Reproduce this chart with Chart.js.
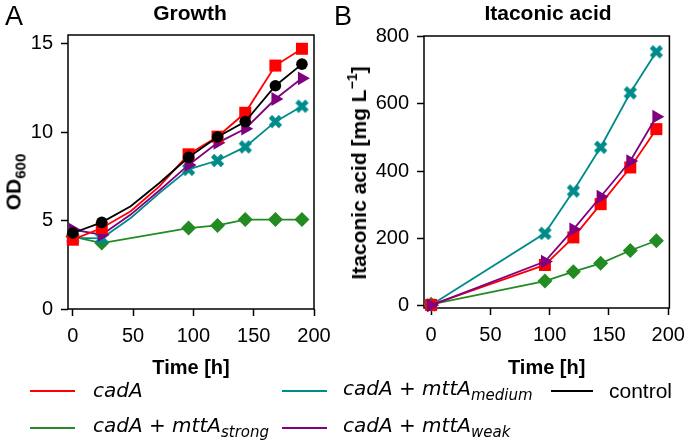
<!DOCTYPE html>
<html>
<head>
<meta charset="utf-8">
<script src="https://cdn.jsdelivr.net/npm/chart.js@4/dist/chart.umd.min.js"></script>
<style>
  body { margin: 0; background: #fff; }
  #wrap { position: relative; width: 693px; height: 441px; font-family: "Liberation Sans", Arial, sans-serif; color: #000; }
  .box { position: absolute; top: 0; height: 380px; }
  .txt { position: absolute; white-space: nowrap; line-height: 1; }
  .ytitle { position: absolute; white-space: nowrap; line-height: 1; font-weight: bold; transform: translate(-50%, -50%) rotate(-90deg); }
  .sw { position: absolute; height: 0; border-top: 2px solid; width: 45px; }
  .lg { position: absolute; white-space: nowrap; line-height: 1; font-family: "DejaVu Sans", sans-serif; font-style: italic; font-size: 20px; transform: translateY(-50%); }
  .lg sub { font-size: 15px; vertical-align: -5px; }
</style>
</head>
<body>
<div id="wrap">
  <div class="box" style="left:0;width:340px"><canvas id="chartA"></canvas></div>
  <div class="box" style="left:340px;width:353px"><canvas id="chartB"></canvas></div>

  <div class="txt" style="left:5px;top:3px;font-size:27px">A</div>
  <div class="txt" style="left:334px;top:3px;font-size:27px">B</div>
  <div class="txt" style="left:190px;top:2px;font-size:21px;font-weight:bold;transform:translateX(-50%)">Growth</div>
  <div class="txt" style="left:548px;top:2px;font-size:21px;font-weight:bold;transform:translateX(-50%)">Itaconic acid</div>
  <div class="ytitle" style="left:15px;top:182px;font-size:21px">OD<span style="font-size:15px;vertical-align:-5px">600</span></div>
  <div class="ytitle" style="left:357px;top:173px;font-size:21px">Itaconic acid [mg L<span style="font-size:14px;vertical-align:9px">−1</span>]</div>

  <div class="sw" style="left:30px;top:390px;border-color:#ff0000"></div>
  <div class="lg" style="left:93px;top:390px">cadA</div>
  <div class="sw" style="left:30px;top:427px;border-color:#228b22"></div>
  <div class="lg" style="left:93px;top:427px">cadA + mttA<sub>strong</sub></div>
  <div class="sw" style="left:282px;top:390px;border-color:#008b8b"></div>
  <div class="lg" style="left:343px;top:390px">cadA + mttA<sub>medium</sub></div>
  <div class="sw" style="left:282px;top:427px;border-color:#800080"></div>
  <div class="lg" style="left:343px;top:427px">cadA + mttA<sub>weak</sub></div>
  <div class="sw" style="left:551px;top:390px;width:42px;border-color:#000"></div>
  <div class="lg" style="left:609px;top:390px;font-family:'Liberation Sans',Arial,sans-serif;font-style:normal;font-size:21px">control</div>
</div>

<script>
  // panel A: OD600 over time (48 h and 72 h are curve points without markers)
  var timeA = [0, 24, 48, 72, 96, 120, 143, 168, 190];
  var noMarkerA = [48, 72];
  var odCadA    = [3.92, 4.58, 5.53, 6.95, 8.75, 9.75, 11.1, 13.77, 14.72];
  var odStrong  = [4.1, 3.73, null, null, 4.58, 4.73, 5.06, 5.06, 5.06];
  var odMedium  = [4.02, 4.0, 5.15, 6.57, 7.9, 8.4, 9.17, 10.6, 11.47];
  var odWeak    = [4.49, 4.2, 5.34, 6.72, 8.15, 9.4, 10.2, 11.88, 13.05];
  var odControl = [4.3, 4.9, 5.81, 7.14, 8.58, 9.73, 10.6, 12.63, 13.85];

  // panel B: itaconic acid titer
  var timeB = [0, 96, 120, 143, 168, 190];
  var itaCadA   = [2, 121, 203, 302, 411, 525];
  var itaStrong = [4, 73, 101, 126, 164, 193];
  var itaMedium = [2, 215, 341, 471, 633, 755];
  var itaWeak   = [1, 131, 227, 324, 430, 562];

  var xTicks  = [0, 50, 100, 150, 200];
  var yTicksA = [0, 5, 10, 15];
  var yTicksB = [0, 200, 400, 600, 800];

  var RED = '#ff0000', GREEN = '#228b22', TEAL = '#008b8b', PURPLE = '#800080', BLACK = '#000000';
  var FONT = "'Liberation Sans', Arial, sans-serif";

  // filled "X" marker like matplotlib's
  function makeX(color){
    var c = document.createElement('canvas');
    c.width = 15; c.height = 15;
    var g = c.getContext('2d');
    g.strokeStyle = color;
    g.lineWidth = 4.6;
    g.beginPath();
    g.moveTo(2.5, 2.5); g.lineTo(12.5, 12.5);
    g.moveTo(12.5, 2.5); g.lineTo(2.5, 12.5);
    g.stroke();
    return c;
  }

  function pts(times, vals){
    return times.map(function(t, i){ return {x: t, y: vals[i]}; });
  }

  function series(label, times, vals, color, style, radius, order, hidden){
    return {
      label: label,
      data: pts(times, vals),
      borderColor: color,
      backgroundColor: color,
      borderWidth: 1.8,
      pointStyle: style,
      pointRadius: function(ctx){
        var p = ctx.raw;
        return (p && hidden.indexOf(p.x) >= 0) ? 0 : radius;
      },
      pointBorderWidth: 0,
      pointRotation: style === 'triangle' ? 90 : 0,
      spanGaps: true,
      clip: false,
      order: order
    };
  }

  var framePlugin = {
    id: 'frame',
    beforeDatasetsDraw: function(chart){
      var a = chart.chartArea, ctx = chart.ctx;
      ctx.save();
      ctx.strokeStyle = '#000';
      ctx.lineWidth = 1.5;
      ctx.strokeRect(a.left, a.top, a.right - a.left, a.bottom - a.top);
      ctx.restore();
    }
  };

  function axes(xMin, xMax, yMin, yMax, yTicks, yWidth, xHeight){
    return {
      x: {
        type: 'linear', min: xMin, max: xMax,
        afterBuildTicks: function(s){ s.ticks = xTicks.map(function(v){ return {value: v}; }); },
        afterFit: function(s){ s.height = xHeight; },
        grid: { drawOnChartArea: false, drawTicks: true, tickLength: 7, tickWidth: 1.5, tickColor: '#000' },
        border: { display: false },
        ticks: { color: '#000', font: { family: FONT, size: 20 }, padding: 8, maxRotation: 0 },
        title: { display: true, text: 'Time [h]', color: '#000', font: { family: FONT, size: 20, weight: 'bold' }, padding: 0 }
      },
      y: {
        type: 'linear', min: yMin, max: yMax,
        afterBuildTicks: function(s){ s.ticks = yTicks.map(function(v){ return {value: v}; }); },
        afterFit: function(s){ s.width = yWidth; },
        grid: { drawOnChartArea: false, drawTicks: true, tickLength: 7, tickWidth: 1.5, tickColor: '#000' },
        border: { display: false },
        ticks: { color: '#000', font: { family: FONT, size: 20 }, padding: 8 }
      }
    };
  }

  var common = {
    responsive: true,
    maintainAspectRatio: false,
    animation: false,
    plugins: { legend: { display: false }, tooltip: { enabled: false } }
  };

  var teal = makeX(TEAL);

  new Chart(document.getElementById('chartA'), {
    type: 'line',
    data: {
      datasets: [
        series('control', timeA, odControl, BLACK, 'circle', 5.8, 0, noMarkerA),
        series('cadA', timeA, odCadA, RED, 'rect', 8.5, 1, noMarkerA),
        series('cadA + mttA weak', timeA, odWeak, PURPLE, 'triangle', 8, 2, noMarkerA),
        series('cadA + mttA medium', timeA, odMedium, TEAL, teal, 7, 3, noMarkerA),
        series('cadA + mttA strong', timeA, odStrong, GREEN, 'rectRot', 7.5, 4, noMarkerA)
      ]
    },
    options: Object.assign({}, common, {
      layout: { padding: { left: 0, right: 26, top: 35, bottom: 0 } },
      scales: axes(-4, 200, 0, 15.5, yTicksA, 68, 71)
    }),
    plugins: [framePlugin]
  });

  new Chart(document.getElementById('chartB'), {
    type: 'line',
    data: {
      datasets: [
        series('cadA + mttA weak', timeB, itaWeak, PURPLE, 'triangle', 8, 0, []),
        series('cadA', timeB, itaCadA, RED, 'rect', 8.5, 1, []),
        series('cadA + mttA medium', timeB, itaMedium, TEAL, teal, 7, 2, []),
        series('cadA + mttA strong', timeB, itaStrong, GREEN, 'rectRot', 7.5, 3, [])
      ]
    },
    options: Object.assign({}, common, {
      layout: { padding: { left: 0, right: 20, top: 36, bottom: 0 } },
      scales: axes(-6, 201, -7, 802, yTicksB, 84, 72)
    }),
    plugins: [framePlugin]
  });
</script>
</body>
</html>
